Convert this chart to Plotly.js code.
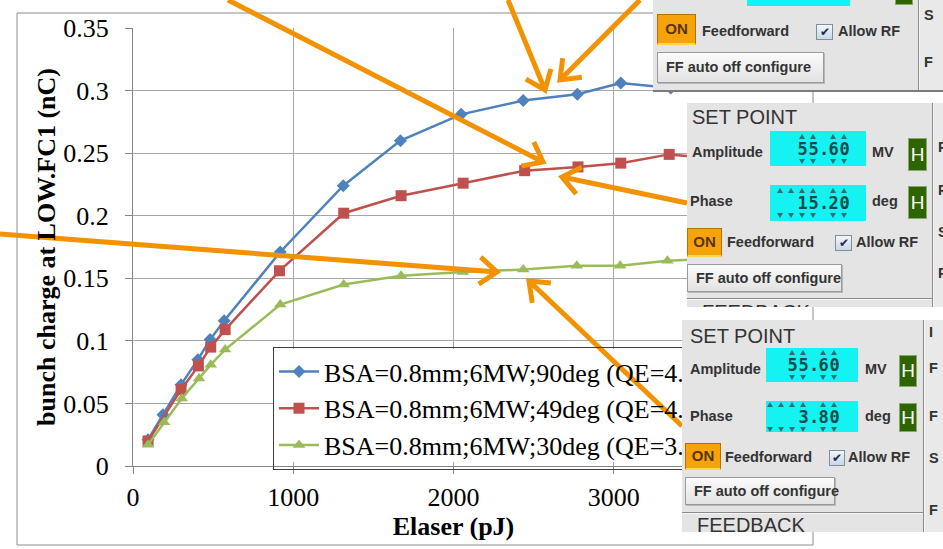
<!DOCTYPE html>
<html>
<head>
<meta charset="utf-8">
<script src="https://cdn.plot.ly/plotly-3.0.1.min.js"></script>
<style>
  html, body { margin: 0; padding: 0; background: #fff; }
  #wrap { position: relative; width: 943px; height: 549px; overflow: hidden; background: #fff; }
  #chart { position: absolute; left: 0; top: 0; width: 943px; height: 549px; }
  .panel { position: absolute; background: #e4e4e4; overflow: hidden;
           font-family: "Liberation Sans", Arial, sans-serif; color: #333; }
  .panel div { position: absolute; white-space: nowrap; box-sizing: border-box; }
  .lbl { font-weight: bold; font-size: 14.5px; height: 20px; line-height: 20px; }
  .big { font-size: 20px; height: 24px; line-height: 24px; color: #333; }
  .divv { top: 0; bottom: 0; width: 2px; background: #8a8a8a; border-right: 1px solid #f6f6f6; }
  .strip { top: 0; bottom: 0; right: 0; background: #e9e9e9; }
  .cyan { background: #14f2f2; }
  .hbtn { background: #2f6500; border: 1px solid #86a86a; color: #fff; font-size: 19px;
          text-align: center; }
  .onbtn { background: #f6a30b; border: 1px solid #b37200; border-bottom: 2px solid #ffd84a;
           color: #5a3300; font-weight: bold; font-size: 15px; text-align: center; }
  .chk { background: linear-gradient(#f2f6fb, #c9d7e6); border: 1px solid #7d8ea0;
         color: #1d2c4a; font-size: 12px; text-align: center; line-height: 14px; }
  .ffbtn { background: linear-gradient(#fbfbfb, #e2e2e2); border: 1px solid #9a9a9a;
           box-shadow: 1px 1px 0 #b8b8b8; font-weight: bold; font-size: 14.5px; color: #333;
           padding-left: 8px; }
  .hline { left: 0; right: 0; height: 2px; background: #8a8a8a; border-bottom: 1px solid #f6f6f6; }
  .spin { display: flex; align-items: center; }
  .slot { position: relative !important; display: inline-block; width: 11px; height: 20px;
          line-height: 20px; text-align: center; font: bold 17px "DejaVu Sans Mono", monospace;
          color: #0d4a4a; }
  .slot.dot { width: 9px; }
  .up, .dn { width: 0; height: 0; left: 2px; }
  .up { top: -5px; border-left: 3.5px solid transparent; border-right: 3.5px solid transparent;
        border-bottom: 5px solid #2d7070; }
  .dn { top: 20px; border-left: 3.5px solid transparent; border-right: 3.5px solid transparent;
        border-top: 5px solid #2d7070; }
</style>
</head>
<body>
<div id="wrap"><div id="chart"></div></div>
<script>
// ---- series: laser pulse energy (pJ) vs. bunch charge (nC) ----
const seriesNames = [
  'BSA=0.8mm;6MW;90deg (QE=4.1e-5)',
  'BSA=0.8mm;6MW;49deg (QE=4.0e-5)',
  'BSA=0.8mm;6MW;30deg (QE=3.0e-5)'
];
const xBlue  = [94, 187, 300, 405, 481, 569, 919, 1312, 1669, 2048, 2435, 2773, 3044, 3356, 3700];
const yBlue  = [0.021, 0.041, 0.065, 0.085, 0.101, 0.116, 0.171, 0.224, 0.260, 0.281, 0.292, 0.297, 0.306, 0.302, 0.310];
const xRed   = [94, 300, 408, 485, 575, 914, 1315, 1673, 2060, 2444, 2777, 3044, 3346, 3700];
const yRed   = [0.020, 0.061, 0.080, 0.095, 0.109, 0.156, 0.202, 0.216, 0.226, 0.236, 0.239, 0.242, 0.249, 0.245];
const xGreen = [94, 194, 304, 412, 485, 575, 919, 1315, 1673, 2058, 2435, 2769, 3040, 3335, 3700];
const yGreen = [0.017, 0.035, 0.054, 0.070, 0.081, 0.093, 0.129, 0.145, 0.152, 0.155, 0.157, 0.160, 0.160, 0.164, 0.166];

const xTickVals = [0, 1000, 2000, 3000, 4000];
const xTickText = ['0', '1000', '2000', '3000', '4000'];
const yTickVals = [0, 0.05, 0.1, 0.15, 0.2, 0.25, 0.3, 0.35];
const yTickText = ['0', '0.05', '0.1', '0.15', '0.2', '0.25', '0.3', '0.35'];

// ---- page geometry (pixels) ----
const PL = 133, PR = 774, PT = 28, PB = 466;
const px = x => (x - PL) / (PR - PL);
const py = y => (PB - y) / (PB - PT);

const SERIF = '"Liberation Serif", "Times New Roman", serif';
const ORANGE = '#F39200';

// callout arrows: [startX, startY, tipX, tipY] in page pixels
const callouts = [
  [228, 0, 543, 162],
  [508, 0, 545, 90],
  [640, 0, 560, 80],
  [687, 203, 562, 177],
  [0, 234, 497, 272],
  [682, 426, 529, 281]
];

function calloutShapes(a) {
  const [x0, y0, x1, y1] = a;
  const len = Math.hypot(x1 - x0, y1 - y0);
  const ux = (x0 - x1) / len, uy = (y0 - y1) / len;
  const ang = 38 * Math.PI / 180, arm = 22;
  const rot = t => [x1 + arm * (ux * Math.cos(t) - uy * Math.sin(t)),
                    y1 + arm * (ux * Math.sin(t) + uy * Math.cos(t))];
  const [ax, ay] = rot(ang), [bx, by] = rot(-ang);
  const ln = { color: ORANGE, width: 5 };
  return [
    { type: 'line', xref: 'paper', yref: 'paper', layer: 'above',
      x0: px(x0), y0: py(y0), x1: px(x1), y1: py(y1), line: ln },
    { type: 'path', xref: 'paper', yref: 'paper', layer: 'above', line: ln,
      path: `M${px(ax)},${py(ay)} L${px(x1)},${py(y1)} L${px(bx)},${py(by)}` }
  ];
}

const shapes = [
  // chart frame
  { type: 'rect', xref: 'paper', yref: 'paper', layer: 'below',
    x0: px(17), y0: py(545), x1: px(813), y1: py(13),
    line: { color: '#8c8c8c', width: 1 }, fillcolor: 'rgba(0,0,0,0)' },
  // legend backing, so gridlines stay hidden behind the key
  { type: 'rect', xref: 'paper', yref: 'paper', layer: 'above',
    x0: px(274), y0: py(462), x1: px(700), y1: py(349),
    line: { width: 0 }, fillcolor: '#ffffff' }
];
callouts.forEach(a => shapes.push(...calloutShapes(a)));

const traces = [
  { x: xBlue, y: yBlue, color: '#4F81BD', symbol: 'diamond', size: 10 },
  { x: xRed, y: yRed, color: '#C0504D', symbol: 'square', size: 11 },
  { x: xGreen, y: yGreen, color: '#9BBB59', symbol: 'triangle-up', size: 11 }
].map((s, i) => ({
  type: 'scatter', mode: 'lines+markers', name: seriesNames[i],
  x: s.x, y: s.y,
  line: { color: s.color, width: 2.5 },
  marker: { symbol: s.symbol, size: s.size, color: s.color }
}));

const axisCommon = {
  showgrid: true, gridcolor: '#a6a6a6', gridwidth: 1,
  showline: true, linecolor: '#868686', linewidth: 1,
  ticks: 'outside', ticklen: 7, tickcolor: '#868686',
  zeroline: false, tickmode: 'array',
  tickfont: { family: SERIF, size: 26, color: '#000' }
};

const layout = {
  width: 943, height: 549,
  margin: { l: PL, r: 943 - PR, t: PT, b: 549 - PB },
  paper_bgcolor: '#ffffff', plot_bgcolor: '#ffffff',
  font: { family: SERIF, size: 26, color: '#000' },
  xaxis: Object.assign({}, axisCommon, {
    range: [0, 4000], tickvals: xTickVals, ticktext: xTickText, ticklabelstandoff: 1,
    title: { text: 'Elaser (pJ)', standoff: 0,
             font: { family: SERIF, size: 26, weight: 'bold', color: '#000' } }
  }),
  yaxis: Object.assign({}, axisCommon, {
    range: [0, 0.35], tickvals: yTickVals, ticktext: yTickText, ticklabelstandoff: 11,
    title: { text: 'bunch charge at LOW.FC1 (nC)', standoff: 0,
             font: { family: SERIF, size: 26, weight: 'bold', color: '#000' } }
  }),
  showlegend: true,
  legend: {
    x: px(273), y: py(347), xanchor: 'left', yanchor: 'top',
    bgcolor: 'rgba(0,0,0,0)', bordercolor: '#3f3f3f', borderwidth: 1,
    font: { family: SERIF, size: 26, color: '#000' }, itemwidth: 40
  },
  shapes: shapes
};

Plotly.newPlot('chart', traces, layout, { displayModeBar: false, staticPlot: true });

// ---- RF control panel overlays ----
const wrap = document.getElementById('wrap');
function el(parent, cls, css, text) {
  const d = document.createElement('div');
  d.className = cls;
  d.style.cssText = css;
  if (text != null) d.textContent = text;
  parent.appendChild(d);
  return d;
}
function label(p, x, cy, text, cls) {
  return el(p, cls || 'lbl', `left:${x}px;top:${cy - 10}px;`, text);
}
function spinner(box, text, empty, rightPad) {
  const c = el(box, 'spin', `right:${rightPad}px;top:0;bottom:0;`);
  const chars = Array(empty).fill('').concat(text.split(''));
  chars.forEach(ch => {
    const s = document.createElement('span');
    s.className = 'slot' + (ch === '.' ? ' dot' : '');
    s.textContent = ch;
    if (ch !== '.') { el(s, 'up', ''); el(s, 'dn', ''); }
    c.appendChild(s);
  });
}
function buildPanel(o) {
  const p = el(wrap, 'panel', `left:${o.x}px;top:${o.y}px;width:${o.w}px;height:${o.h}px;` + (o.css || ''));
  el(p, 'strip', `left:${o.div}px;`);
  el(p, 'divv', `left:${o.div}px;`);
  o.strip.forEach(s => label(p, o.div + 6, s[1], s[0]));
  if (o.title) el(p, 'big', `left:${o.title[0]}px;top:${o.title[1]}px;`, 'SET POINT');
  o.rows.forEach(r => {
    if (r.label) label(p, r.lx, r.cy, r.label);
    const b = el(p, 'cyan', `left:${r.bx}px;top:${r.by}px;width:${r.bw}px;height:${r.bh}px;`);
    if (r.value) spinner(b, r.value, r.empty, r.pad);
    if (r.unit) label(p, r.ux, r.cy, r.unit);
    el(p, 'hbtn', `left:${r.hx}px;top:${r.hy}px;width:${r.hw}px;height:${r.hh}px;line-height:${r.hh - 2}px;`, r.hy < 0 ? '' : 'H');
  });
  const f = o.ff;
  el(p, 'onbtn', `left:${f.on[0]}px;top:${f.on[1]}px;width:${f.on[2]}px;height:${f.on[3]}px;line-height:${f.on[3] - 3}px;`, 'ON');
  label(p, f.ffx, f.cy, 'Feedforward');
  el(p, 'chk', `left:${f.chk[0]}px;top:${f.chk[1]}px;width:${f.chk[2]}px;height:${f.chk[3]}px;`, '\u2714');
  label(p, f.arx, f.cy, 'Allow RF');
  el(p, 'ffbtn', `left:${f.btn[0]}px;top:${f.btn[1]}px;width:${f.btn[2]}px;height:${f.btn[3]}px;line-height:${f.btn[3] - 2}px;`, 'FF auto off configure');
  if (o.fb) {
    el(p, 'hline', `top:${o.fb[0]}px;width:${o.div}px;`);
    el(p, 'big', `left:${o.fb[1]}px;top:${o.fb[2]}px;`, 'FEEDBACK');
  }
  return p;
}

// top panel (only its lower part is in view)
buildPanel({
  x: 653, y: 0, w: 290, h: 90, div: 265,
  css: 'border-bottom:2px solid #7c7c7c;',
  strip: [['S', 15], ['F', 62]],
  rows: [{ label: '', lx: 0, cy: -20, bx: 94, by: -30, bw: 103, bh: 36,
           hx: 242, hy: -28, hw: 18, hh: 33 }],
  ff: { on: [4, 14, 39, 31], ffx: 49, cy: 31, chk: [163, 24, 17, 16], arx: 185, btn: [4, 52, 167, 31] }
});

// middle panel: phase 15.20 deg
buildPanel({
  x: 687, y: 103, w: 256, h: 204, div: 245,
  strip: [['P', 44], ['P', 87], ['S', 129], ['P', 170]],
  title: [5, 2],
  rows: [
    { label: 'Amplitude', lx: 5, cy: 49, bx: 83, by: 28, bw: 96, bh: 35, value: '55.60', empty: 0, pad: 16,
      unit: 'MV', ux: 185, hx: 221, hy: 35, hw: 19, hh: 33 },
    { label: 'Phase', lx: 3, cy: 98, bx: 83, by: 82, bw: 96, bh: 36, value: '15.20', empty: 2, pad: 16,
      unit: 'deg', ux: 185, hx: 221, hy: 83, hw: 19, hh: 33 }
  ],
  ff: { on: [0, 125, 35, 29], ffx: 40, cy: 139, chk: [148, 132, 17, 16], arx: 169, btn: [0, 161, 155, 28] },
  fb: [195, 15, 197]
});

// bottom panel: phase 3.80 deg
buildPanel({
  x: 682, y: 320, w: 261, h: 212, div: 241,
  strip: [['I', 12], ['F', 48], ['F', 96], ['S', 138], ['F', 190]],
  title: [8, 4],
  rows: [
    { label: 'Amplitude', lx: 8, cy: 49, bx: 84, by: 28, bw: 92, bh: 34, value: '55.60', empty: 0, pad: 18,
      unit: 'MV', ux: 183, hx: 217, hy: 35, hw: 18, hh: 32 },
    { label: 'Phase', lx: 8, cy: 96, bx: 84, by: 81, bw: 92, bh: 31, value: '3.80', empty: 3, pad: 18,
      unit: 'deg', ux: 183, hx: 217, hy: 83, hw: 18, hh: 29 }
  ],
  ff: { on: [3, 123, 36, 27], ffx: 43, cy: 137, chk: [147, 130, 16, 16], arx: 166, btn: [3, 157, 150, 28] },
  fb: [192, 15, 193]
});
</script>
</body>
</html>
